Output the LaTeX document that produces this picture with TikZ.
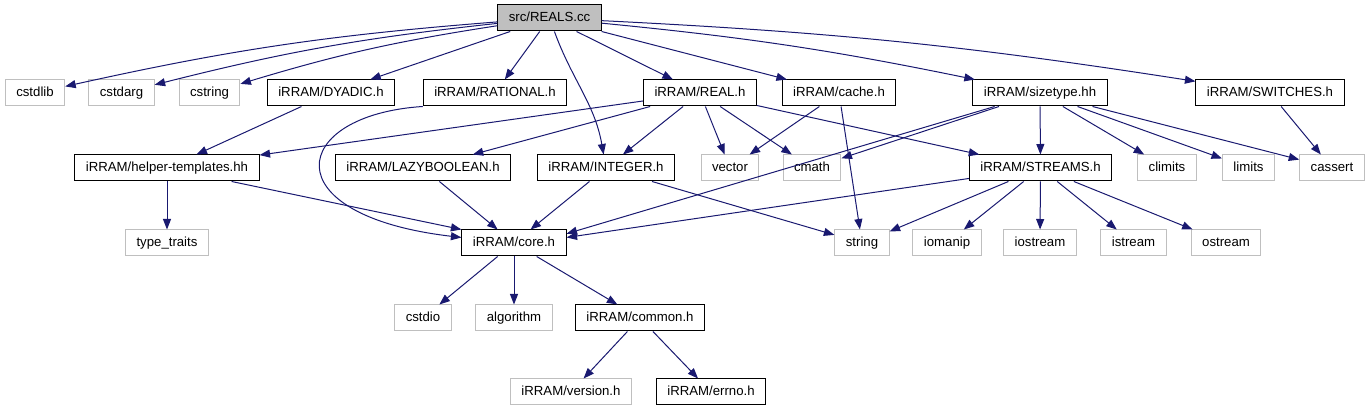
\documentclass[tikz,border=0pt]{standalone}
\usepackage{fontspec}
\setmainfont{Liberation Sans}
\usetikzlibrary{arrows.meta}
\definecolor{Edge}{HTML}{191970}
\definecolor{Grey}{HTML}{BFBFBF}

\begin{document}
\begin{tikzpicture}[x=1pt,y=1pt,
    box/.style={draw,line width=1pt,inner xsep=11pt,inner ysep=0pt,minimum height=26pt,
      font=\fontsize{13.2}{15}\selectfont,text height=9.5pt,text depth=2pt},
    hdr/.style={box,draw=black},
    sys/.style={box,draw=Grey},
    dep/.style={draw=Edge,line width=1pt,-{Triangle[length=10.5pt,width=8pt]}}]
    \useasboundingbox (0,0) rectangle (1371,-411);
    \node[box,draw=black,fill=Grey] (root) at (549.5,-18) {src/REALS.cc};
    % project headers
    \foreach \n/\x/\y/\t in {
      dyadic/331/-93/{iRRAM/DYADIC.h},
      rational/495/-93/{iRRAM/RATIONAL.h},
      real/700/-93/{iRRAM/REAL.h},
      cache/839/-93/{iRRAM/cache.h},
      sizetype/1040/-93/{iRRAM/sizetype.hh},
      switches/1270/-93/{iRRAM/SWITCHES.h},
      helper/167/-168/{iRRAM/helper-templates.hh},
      lazybool/423/-168/{iRRAM/LAZYBOOLEAN.h},
      integer/606/-168/{iRRAM/INTEGER.h},
      streams/1040.5/-168/{iRRAM/STREAMS.h},
      core/514/-243/{iRRAM/core.h},
      common/640/-318/{iRRAM/common.h},
      errno/711/-392/{iRRAM/errno.h}}{
      \node[hdr] (\n) at (\x,\y) {\t};
    }
    % system headers
    \foreach \n/\x/\y/\t in {
      cstdlib/35/-93/{cstdlib},
      cstdarg/121.5/-93/{cstdarg},
      cstring/209.5/-93/{cstring},
      vector/730/-168/{vector},
      cmath/812/-168/{cmath},
      climits/1167/-168/{climits},
      limits/1248.5/-168/{limits},
      cassert/1332/-168/{cassert},
      typetraits/167/-243/{type\_traits},
      string/862/-243/{string},
      iomanip/947/-243/{iomanip},
      iostream/1040/-243/{iostream},
      istream/1133.5/-243/{istream},
      ostream/1226/-243/{ostream},
      cstdio/423/-318/{cstdio},
      algorithm/514/-318/{algorithm},
      version/571/-392/{iRRAM/version.h}}{
      \node[sys] (\n) at (\x,\y) {\t};
    }
    % includes
    \foreach \a/\b in {root/dyadic,root/rational,root/real,root/cache,
      dyadic/helper,real/helper,real/lazybool,real/integer,real/vector,real/cmath,real/streams,
      cache/vector,cache/string,
      sizetype/cmath,sizetype/streams,sizetype/climits,sizetype/limits,sizetype/cassert,
      switches/cassert,helper/typetraits,lazybool/core,integer/core,integer/string,
      streams/string,streams/iomanip,streams/iostream,streams/istream,streams/ostream,
      core/cstdio,core/algorithm,core/common,common/version,common/errno}{
      \draw[dep] (\a) -- (\b);
    }
    \foreach \b in {cstdlib,cstdarg,cstring}{
      \draw[dep] (root) to[bend right=4] (\b);
    }
    \foreach \b in {sizetype,switches}{
      \draw[dep] (root) to[bend left=3] (\b);
    }
    \draw[dep] (root) to[out=-70,in=100] (integer);
    \draw[dep] (sizetype) -- (core.10);
    \draw[dep] (streams) -- (core.6);
    \draw[dep] (helper) -- (core.north west);
    \draw[dep] (rational.south west) .. controls (290,-115) and (270,-215) .. (core.174);
  \end{tikzpicture}
\end{document}
